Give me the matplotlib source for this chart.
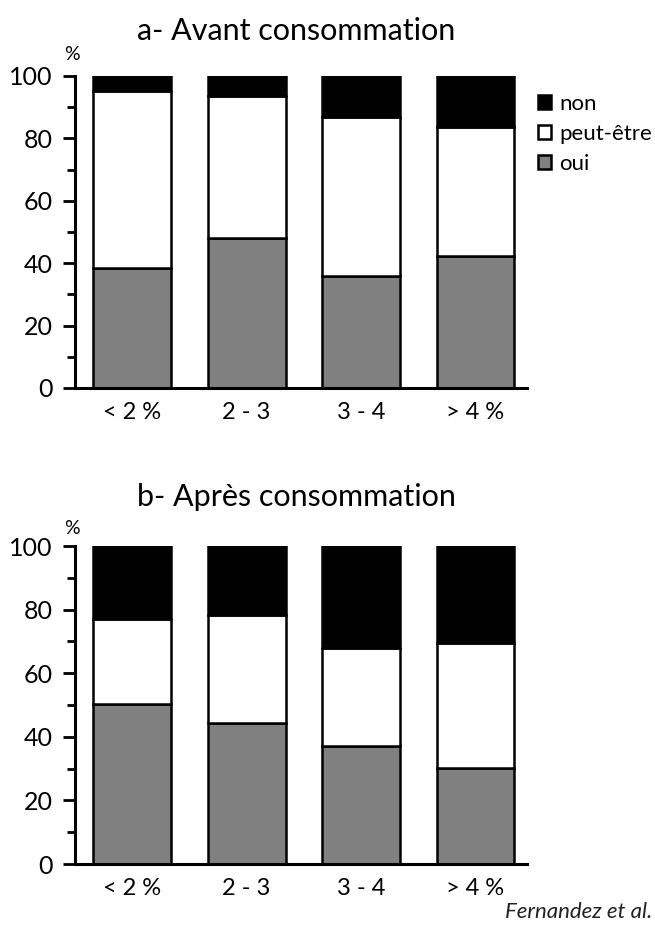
import matplotlib
matplotlib.use("Agg")
import matplotlib.pyplot as plt
import numpy as np

plt.rcParams['font.family'] = ['Lato', 'DejaVu Sans']

categories = ["< 2 %", "2 - 3", "3 - 4", "> 4 %"]
series_names = ["oui", "peut-être", "non"]

# a- Avant consommation
avant_oui = [38.6, 48.0, 35.9, 42.3]
avant_peut = [56.6, 45.7, 51.1, 41.5]
avant_non = [4.8, 6.3, 13.0, 16.2]

# b- Après consommation
apres_oui = [50.2, 44.2, 37.2, 30.2]
apres_peut = [26.8, 34.0, 30.8, 39.2]
apres_non = [23.0, 21.8, 32.0, 30.6]

titles = ["a- Avant consommation", "b- Après consommation"]
colors = ["#808080", "#ffffff", "#000000"]

W, H = 655, 925
fig = plt.figure(figsize=(W / 100, H / 100), dpi=100)

def axes_px(left, right, top, bottom):
    return fig.add_axes([left / W, 1 - bottom / H, (right - left) / W, (bottom - top) / H])

ax_a = axes_px(75, 527, 76, 388)
ax_b = axes_px(75, 527, 546, 864)

def draw(ax, oui, peut, non, title, title_y, pct_y):
    x = np.arange(len(categories))
    bottom = np.zeros(len(categories))
    handles = []
    for vals, col in zip([oui, peut, non], colors):
        b = ax.bar(x, vals, bottom=bottom, width=0.68, color=col,
                   edgecolor="black", linewidth=1.8, zorder=2)
        handles.append(b)
        bottom = bottom + np.array(vals)
    ax.set_xlim(-0.5, 3.45)
    ax.set_ylim(0, 100)
    ax.set_xticks(x)
    ax.set_xticklabels(categories, fontsize=17)
    ax.tick_params(axis="x", length=0, pad=10)
    ax.set_yticks([0, 20, 40, 60, 80, 100])
    ax.set_yticks([10, 30, 50, 70, 90], minor=True)
    ax.tick_params(axis="y", which="major", length=9, width=2, pad=7, labelsize=18)
    ax.tick_params(axis="y", which="minor", length=6, width=2)
    for s in ["top", "right"]:
        ax.spines[s].set_visible(False)
    for s in ["left", "bottom"]:
        ax.spines[s].set_linewidth(2.2)
    fig.text(296 / W, 1 - title_y / H, title, ha="center", va="center", fontsize=22)
    fig.text(72 / W, 1 - pct_y / H, "%", ha="center", va="center", fontsize=14)
    return handles

h = draw(ax_a, avant_oui, avant_peut, avant_non, titles[0], 31, 55)
draw(ax_b, apres_oui, apres_peut, apres_non, titles[1], 497, 528)

leg = fig.legend(handles=h[::-1], labels=series_names[::-1], loc="upper left",
                 bbox_to_anchor=(538 / W, 1 - 94 / H), frameon=False,
                 fontsize=16, handlelength=0.6, handleheight=0.6,
                 handletextpad=0.35, labelspacing=0.45, borderpad=0, borderaxespad=0)

fig.text(652 / W, 1 - 912 / H, "Fernandez et al.", ha="right", va="center",
         fontsize=16, style="italic", color="#222222")

fig.savefig("out.png", dpi=100)
